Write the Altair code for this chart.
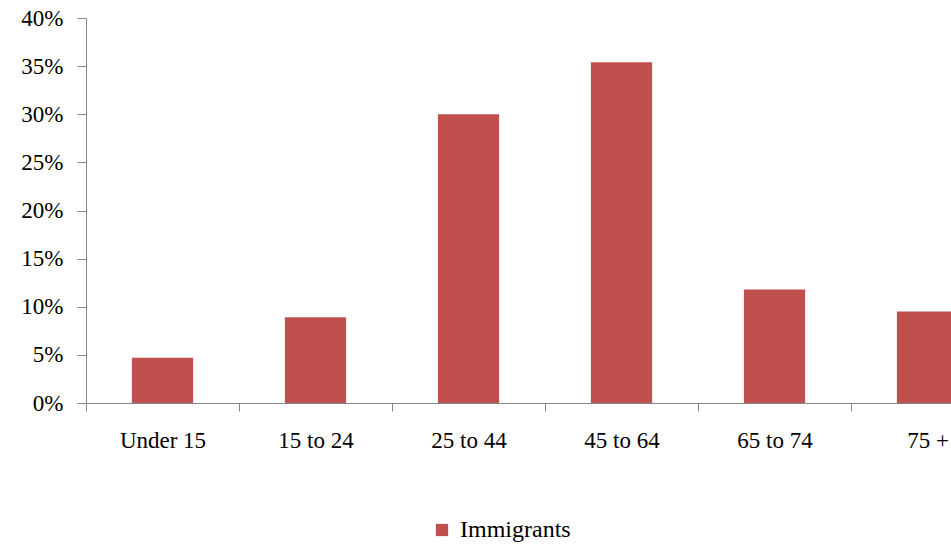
import altair as alt
import pandas as pd

# Share of immigrants by age group
age_groups = ["Under 15", "15 to 24", "25 to 44", "45 to 64", "65 to 74", "75 +"]
shares = [0.047, 0.089, 0.300, 0.354, 0.118, 0.095]
series_name = ["Immigrants"] * len(age_groups)

df = pd.DataFrame({"age": age_groups, "share": shares, "series": series_name})

FONT = "'Liberation Serif', 'Times New Roman', Times, serif"
BAR = "#C0504D"
AXIS_GREY = "#868686"

bars = alt.Chart(df).mark_bar(clip=True, width=alt.RelativeBandSize(0.4)).encode(
    x=alt.X(
        "age:N",
        sort=age_groups,
        scale=alt.Scale(range=[0, 918], paddingInner=0, paddingOuter=0),
        axis=alt.Axis(
            title=None,
            labelAngle=0,
            labelFont=FONT,
            labelFontSize=23,
            labelColor="black",
            labelPadding=18,
            tickBand="extent",
            tickSize=8,
            tickColor=AXIS_GREY,
            domainColor=AXIS_GREY,
            grid=False,
        ),
    ),
    y=alt.Y(
        "share:Q",
        scale=alt.Scale(domain=[0, 0.4], nice=False),
        axis=alt.Axis(
            title=None,
            format=".0%",
            values=[0, 0.05, 0.1, 0.15, 0.2, 0.25, 0.3, 0.35, 0.4],
            labelFont=FONT,
            labelFontSize=23,
            labelColor="black",
            labelPadding=14,
            tickSize=9,
            tickColor=AXIS_GREY,
            domainColor=AXIS_GREY,
            grid=False,
        ),
    ),
    color=alt.Color(
        "series:N",
        scale=alt.Scale(domain=["Immigrants"], range=[BAR]),
        legend=alt.Legend(
            title=None,
            orient="none",
            legendX=344,
            legendY=500,
            symbolType="square",
            symbolSize=150,
            symbolStrokeWidth=0,
            labelFont=FONT,
            labelFontSize=24,
            labelColor="black",
            labelOffset=6,
        ),
    ),
)

chart = bars.properties(
    width=865,
    height=385,
    autosize=alt.AutoSizeParams(type="none"),
    padding={"left": 86, "top": 18, "right": 0, "bottom": 142},
).configure(background="white", font=FONT).configure_view(stroke=None)

chart.save("out.html", embed_options={"renderer": "svg", "actions": False})
